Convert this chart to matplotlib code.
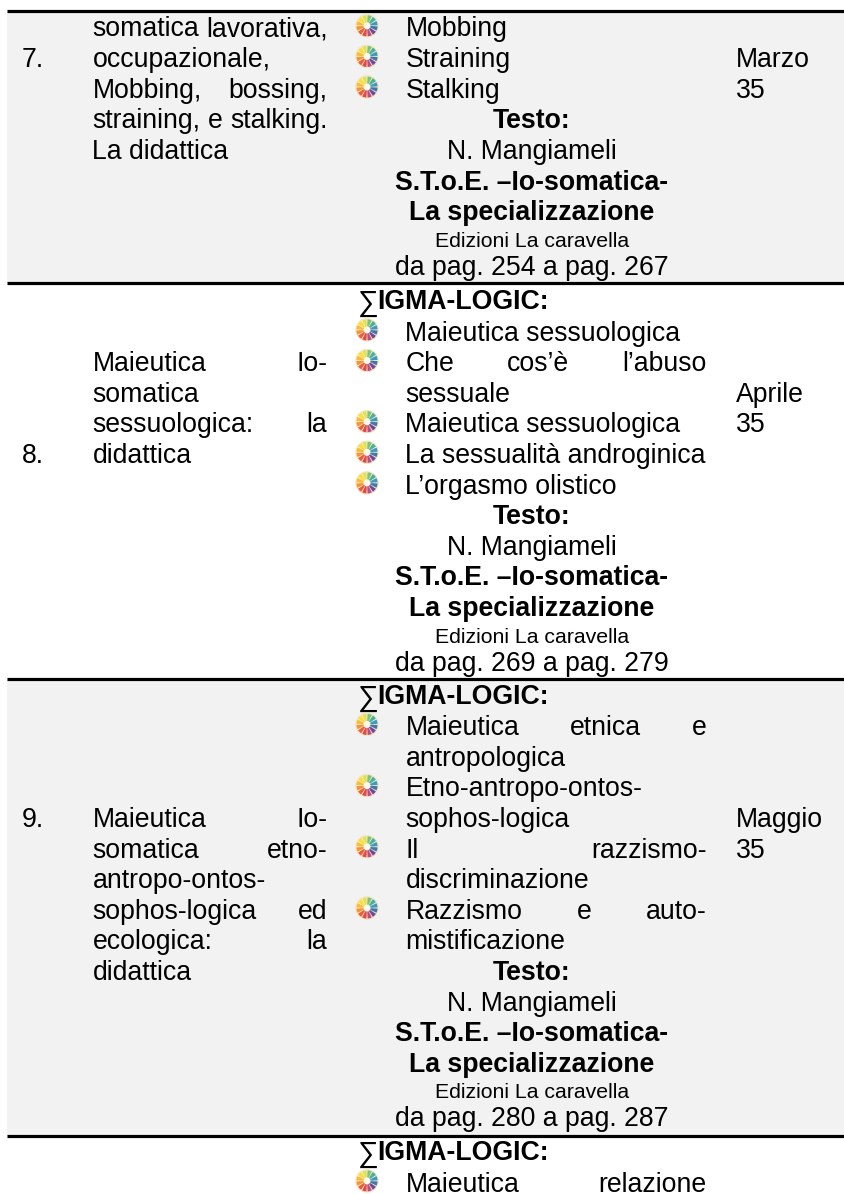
import matplotlib
matplotlib.use("Agg")
import matplotlib.pyplot as plt
from matplotlib.patches import Wedge, Circle, Rectangle

plt.rcParams["font.family"] = ["Liberation Sans", "DejaVu Sans"]

SIGMA = "∑"
LOGIC = "IGMA-LOGIC:"
TESTO = "Testo:"
AUTORE = "N. Mangiameli"
LIBRO_1 = "S.T.o.E. –Io-somatica-"
LIBRO_2 = "La specializzazione"
EDITORE = "Edizioni La caravella"

numeri = ["7.", "8.", "9."]
mesi = [["Marzo", "35"], ["Aprile", "35"], ["Maggio", "35"]]

titoli_7 = [("somatica lavorativa,", True), ("occupazionale,", False), ("Mobbing, bossing,", True),
            ("straining, e stalking.", True), ("La didattica", False)]
titoli_8 = [("Maieutica Io-", True), ("somatica", False), ("sessuologica: la", True), ("didattica", False)]
titoli_9 = [("Maieutica Io-", True), ("somatica etno-", True), ("antropo-ontos-", False),
            ("sophos-logica ed", True), ("ecologica: la", True), ("didattica", False)]

# (testo, pallino, giustificato)
punti_7 = [("Mobbing", True, False), ("Straining", True, False), ("Stalking", True, False)]
punti_8 = [("Maieutica sessuologica", True, False), ("Che cos’è l’abuso", True, True),
           ("sessuale", False, False), ("Maieutica sessuologica", True, False),
           ("La sessualità androginica", True, False), ("L’orgasmo olistico", True, False)]
punti_9 = [("Maieutica etnica e", True, True), ("antropologica", False, False),
           ("Etno-antropo-ontos-", True, False), ("sophos-logica", False, False),
           ("Il razzismo-", True, True), ("discriminazione", False, False),
           ("Razzismo e auto-", True, True), ("mistificazione", False, False)]
punti_10 = [("Maieutica relazione", True, True)]

pagine = ["da pag. 254 a pag. 267", "da pag. 269 a pag. 279", "da pag. 280 a pag. 287"]

colori_ruota = ["#6fbf73", "#35a89b", "#2b8fc0", "#2f6aa5", "#5d3a94", "#b0407e",
                "#e0363a", "#e8502f", "#f28a2a", "#f8b62a", "#fbdc2e", "#dfe04a"]

fig = plt.figure(figsize=(8.45, 11.94), dpi=100)
ax = fig.add_axes([0, 0, 1, 1])
ax.set_xlim(0, 845)
ax.set_ylim(1194, 0)
ax.axis("off")
renderer = fig.canvas.get_renderer()

FS = 19.15
FS_SMALL = 15.3
PITCH = 30.6
X_NUM, X_TIT, X_TIT_R = 21.5, 92.5, 327.5
X_PALLINO, X_PUNTI, X_PUNTI_R, X_CENTRO = 367, 405.5, 706.5, 532
X_MESE = 736
X_SIGMA, X_LOGIC = 358, 377.5


def riga(x, y, s, **kw):
    return ax.text(x, y, s, fontsize=kw.pop("fontsize", FS), va="baseline", color="black", **kw)


def giustificata(x0, x1, y, s):
    parole = s.split(" ")
    larghezze = []
    for p in parole:
        t = riga(0, 0, p)
        larghezze.append(t.get_window_extent(renderer).width)
        t.remove()
    spazio = (x1 - x0 - sum(larghezze)) / (len(parole) - 1)
    x = x0
    for p, w in zip(parole, larghezze):
        riga(x, y, p)
        x += w + spazio


def ruota(cx, cy):
    ax.add_patch(Circle((cx, cy), 11.3, fc="#fbeecd", ec="#f1e2bb", lw=0.5, zorder=3))
    ax.add_patch(Circle((cx, cy), 3.5, fc="#fdf8ea", ec="none", zorder=5))
    n = len(colori_ruota)
    for i, c in enumerate(colori_ruota):
        # asse y invertito: gli angoli crescono in senso orario
        a = -90 + i * 360 / n
        ax.add_patch(Wedge((cx, cy), 10.6, a + 3, a + 360 / n - 3, fc=c, ec="none", alpha=0.9, zorder=4))


def colonna_centrale(y0, sigma, punti, pagina):
    y = y0
    if sigma:
        riga(X_SIGMA, y + 1, SIGMA, fontsize=21)
        riga(X_LOGIC, y - 1, LOGIC, fontweight="bold")
        y += PITCH
    for testo, pallino, giust in punti:
        if pallino:
            ruota(X_PALLINO, y - 10.7)
        if giust:
            giustificata(X_PUNTI, X_PUNTI_R, y, testo)
        else:
            riga(X_PUNTI, y, testo)
        y += PITCH
    if pagina is None:
        return
    riga(X_CENTRO, y, TESTO, fontweight="bold", ha="center")
    y += PITCH
    riga(X_CENTRO, y, AUTORE, ha="center")
    y += PITCH
    riga(X_CENTRO, y, LIBRO_1, fontweight="bold", ha="center")
    y += PITCH
    riga(X_CENTRO, y, LIBRO_2, fontweight="bold", ha="center")
    y += 26.5
    riga(X_CENTRO, y, EDITORE, ha="center", fontsize=FS_SMALL)
    y += 28
    riga(X_CENTRO, y, pagina, ha="center")


def colonna_titolo(y, righe):
    for testo, giust in righe:
        if giust:
            giustificata(X_TIT, X_TIT_R, y, testo)
        else:
            riga(X_TIT, y, testo)
        y += PITCH


# fondi grigi e filetti
ax.add_patch(Rectangle((7, 10), 838, 273, fc="#f2f2f2", ec="none", zorder=0))
ax.add_patch(Rectangle((7, 678), 838, 458, fc="#f2f2f2", ec="none", zorder=0))
for y in [10.5, 283, 678.5, 1136]:
    ax.plot([7, 845], [y, y], color="black", lw=2.3, solid_capstyle="butt", zorder=6)

# riga 7
B7, B8, B9, B10 = 36.5, 310, 704.5, 1161
colonna_titolo(B7, titoli_7)
riga(X_NUM, B7 + PITCH, numeri[0])
riga(X_MESE, B7 + PITCH, mesi[0][0])
riga(X_MESE, B7 + 2 * PITCH, mesi[0][1])
colonna_centrale(B7, False, punti_7, pagine[0])

# riga 8
colonna_titolo(B8 + 2 * PITCH, titoli_8)
riga(X_NUM, B8 + 5 * PITCH, numeri[1])
riga(X_MESE, B8 + 3 * PITCH, mesi[1][0])
riga(X_MESE, B8 + 4 * PITCH, mesi[1][1])
colonna_centrale(B8, True, punti_8, pagine[1])

# riga 9
colonna_titolo(B9 + 4 * PITCH, titoli_9)
riga(X_NUM, B9 + 4 * PITCH, numeri[2])
riga(X_MESE, B9 + 4 * PITCH, mesi[2][0])
riga(X_MESE, B9 + 5 * PITCH, mesi[2][1])
colonna_centrale(B9, True, punti_9, pagine[2])

# riga 10, tagliata dal bordo della pagina
colonna_centrale(B10, True, punti_10, None)

fig.savefig("out.png", dpi=100)
